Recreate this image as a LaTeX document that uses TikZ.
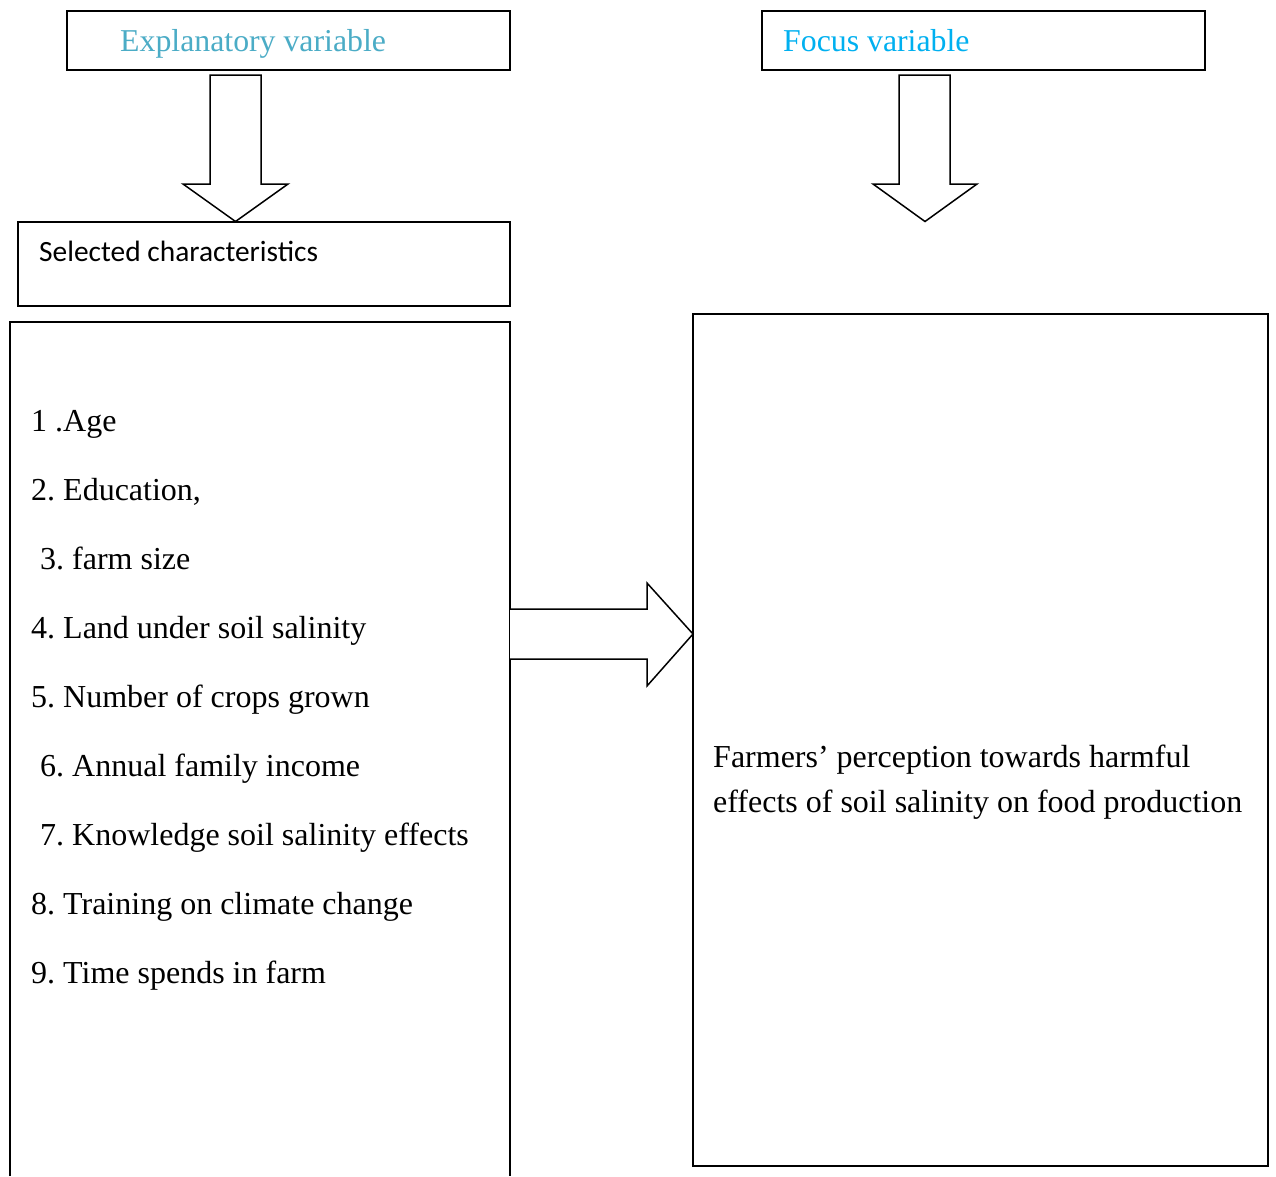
\documentclass[tikz,border=0pt]{standalone}
\usepackage{fontspec}
\setmainfont{Liberation Serif}
\newfontfamily\calibrifont{Carlito}
\definecolor{explblue}{HTML}{4BACC6}
\definecolor{focusblue}{HTML}{00B0F0}
\frenchspacing
\begin{document}
\begin{tikzpicture}[x=1pt,y=-1pt,
  boxstyle/.style={draw=black, line width=1.5pt, fill=none},
  blockarrow/.style={draw=black, line width=1.5pt, line join=miter, fill=white},
  txt/.style={anchor=base west, inner sep=0pt, font=\fontsize{32}{38}\selectfont},
  hdr/.style={anchor=base west, inner sep=0pt, font=\fontsize{31.8}{38}\selectfont}
]
\useasboundingbox (0,0) rectangle (1276,1176);
\fill[white] (0,0) rectangle (1276,1176);

% header boxes
\node[boxstyle, minimum width=443pt, minimum height=59pt, inner sep=0pt] (exbox) at (288.5,40.5) {};
\node[boxstyle, minimum width=443pt, minimum height=59pt, inner sep=0pt] (fobox) at (983.5,40.5) {};
\node[hdr, text=explblue] (extxt) at (120,51) {Explanatory variable};
\node[hdr, text=focusblue] (fotxt) at (783,51) {Focus variable};

% selected characteristics box
\node[boxstyle, minimum width=492pt, minimum height=84pt, inner sep=0pt] (selbox) at (264,264) {};
\node[anchor=base west, inner sep=0pt, font=\calibrifont\fontsize{29.4}{34}\selectfont] (seltxt) at (39,261) {Selected characteristics};

% list box (bottom cut off)
\coordinate (lbl) at (10,1176);
\coordinate (ltl) at (10,322);
\coordinate (ltr) at (510,322);
\coordinate (lbr) at (510,1176);
\draw[boxstyle] (lbl) -- (ltl) -- (ltr) -- (lbr);

% right box
\node[boxstyle, minimum width=575pt, minimum height=852pt, inner sep=0pt] (rbox) at (980.5,740) {};

% down arrows
\draw[blockarrow] (210,75) -- (261,75) -- (261,184) -- (288,184) -- (235.5,221.5) -- (183,184) -- (210,184) -- cycle;
\draw[blockarrow] (899,75) -- (950,75) -- (950,184) -- (977,184) -- (925,221.5) -- (873,184) -- (899,184) -- cycle;

% right arrow
\draw[blockarrow] (510,609) -- (647,609) -- (647,583) -- (693,634) -- (647,686) -- (647,659) -- (510,659);

% list items
\node[txt] (i1) at (31,431) {1 .Age};
\node[txt] (i2) at (31,500) {2. Education,};
\node[txt] (i3) at (40,569) {3. farm size};
\node[txt] (i4) at (31,638) {4. Land under soil salinity};
\node[txt] (i5) at (31,707) {5. Number of crops grown};
\node[txt] (i6) at (40,776) {6. Annual family income};
\node[txt] (i7) at (40,845) {7. Knowledge soil salinity effects};
\node[txt] (i8) at (31,914) {8. Training on climate change};
\node[txt] (i9) at (31,983) {9. Time spends in farm};

% focus text
\node[txt] (f1) at (713,767) {Farmers’ perception towards harmful};
\node[txt] (f2) at (713,812) {effects of soil salinity on food production};
\end{tikzpicture}
\end{document}
